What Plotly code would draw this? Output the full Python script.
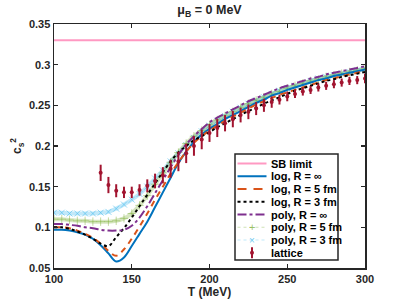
import plotly.graph_objects as go

# ---------------- data ----------------
T = [100, 105, 110, 115, 120, 125, 130, 135, 140, 145, 150, 155, 160, 165, 170, 175, 180,
     185, 190, 195, 200, 205, 210, 215, 220, 225, 230, 235, 240, 245, 250, 255, 260, 265,
     270, 275, 280, 285, 290, 295, 300]

sb_limit = 0.33

log_inf = [0.097, 0.097, 0.096, 0.094, 0.091, 0.086, 0.078, 0.068, 0.058, 0.063, 0.077, 0.092,
           0.107, 0.125, 0.143, 0.161, 0.179, 0.193, 0.205, 0.214, 0.221, 0.227, 0.233, 0.238,
           0.243, 0.248, 0.253, 0.257, 0.262, 0.265, 0.269, 0.272, 0.275, 0.278, 0.281, 0.283,
           0.286, 0.288, 0.290, 0.292, 0.294]
log_5 = [0.100, 0.100, 0.099, 0.096, 0.092, 0.087, 0.080, 0.071, 0.065, 0.073, 0.086, 0.101,
         0.117, 0.134, 0.150, 0.166, 0.180, 0.193, 0.204, 0.212, 0.219, 0.225, 0.231, 0.236,
         0.241, 0.246, 0.251, 0.255, 0.259, 0.263, 0.266, 0.269, 0.272, 0.275, 0.278, 0.281,
         0.283, 0.286, 0.288, 0.290, 0.292]
log_3 = [0.100, 0.100, 0.098, 0.095, 0.091, 0.086, 0.080, 0.077, 0.088, 0.099, 0.112, 0.126,
         0.140, 0.154, 0.168, 0.181, 0.192, 0.200, 0.207, 0.212, 0.217, 0.223, 0.228, 0.233,
         0.238, 0.243, 0.247, 0.252, 0.256, 0.260, 0.264, 0.268, 0.271, 0.274, 0.277, 0.280,
         0.282, 0.285, 0.287, 0.289, 0.291]
poly_inf = [0.104, 0.104, 0.103, 0.102, 0.100, 0.099, 0.097, 0.096, 0.096, 0.097, 0.102, 0.112,
            0.126, 0.142, 0.158, 0.174, 0.189, 0.202, 0.212, 0.221, 0.229, 0.235, 0.240, 0.245,
            0.250, 0.255, 0.259, 0.263, 0.267, 0.271, 0.274, 0.277, 0.280, 0.283, 0.285, 0.288,
            0.290, 0.292, 0.294, 0.296, 0.298]
poly_5 = [0.110, 0.110, 0.109, 0.108, 0.108, 0.107, 0.107, 0.107, 0.108, 0.111, 0.117, 0.127,
          0.139, 0.153, 0.167, 0.180, 0.192, 0.203, 0.212, 0.219, 0.226, 0.232, 0.237, 0.242,
          0.247, 0.252, 0.256, 0.260, 0.264, 0.267, 0.271, 0.274, 0.277, 0.280, 0.282, 0.285,
          0.287, 0.289, 0.291, 0.293, 0.295]
poly_3 = [0.118, 0.118, 0.117, 0.117, 0.117, 0.117, 0.118, 0.119, 0.123, 0.128, 0.134, 0.141,
          0.150, 0.160, 0.170, 0.181, 0.191, 0.201, 0.210, 0.218, 0.225, 0.231, 0.237, 0.242,
          0.247, 0.252, 0.256, 0.260, 0.264, 0.268, 0.271, 0.274, 0.277, 0.280, 0.283, 0.285,
          0.287, 0.289, 0.291, 0.293, 0.295]

T_lat = [130, 135, 140, 145, 150, 155, 160, 165, 170, 175, 180, 185, 190, 195, 200, 205, 210,
         215, 220, 225, 230, 235, 240, 245, 250, 255, 260, 265, 270, 275, 280, 285, 290, 295, 300]
lat = [0.167, 0.152, 0.145, 0.143, 0.143, 0.146, 0.151, 0.157, 0.164, 0.172, 0.181, 0.191,
       0.200, 0.208, 0.216, 0.222, 0.228, 0.233, 0.238, 0.242, 0.246, 0.250, 0.254, 0.257,
       0.261, 0.264, 0.267, 0.269, 0.272, 0.274, 0.276, 0.278, 0.280, 0.281, 0.283]
lat_err = [0.010, 0.010, 0.008, 0.007, 0.007, 0.007, 0.008, 0.009, 0.010, 0.011, 0.012, 0.012,
           0.012, 0.012, 0.011, 0.011, 0.010, 0.010, 0.009, 0.009, 0.008, 0.008, 0.007, 0.006,
           0.006, 0.005, 0.005, 0.005, 0.005, 0.005, 0.005, 0.005, 0.005, 0.005, 0.006]

legend_labels = ["SB limit", "log, R = ∞", "log, R = 5 fm", "log, R = 3 fm",
                 "poly, R = ∞", "poly, R = 5 fm", "poly, R = 3 fm", "lattice"]

FONT = "Liberation Sans"
C_SB = "#FF99C2"
C_BLUE = "#0072BD"
C_ORANGE = "#D95319"
C_PURPLE = "#7E2F8E"
C_GREEN = "rgba(119,172,48,0.30)"
C_GREEN_M = "rgba(119,172,48,0.45)"
C_CYAN = "rgba(77,190,238,0.35)"
C_CYAN_M = "rgba(77,190,238,0.6)"
C_LAT = "#A2142F"

W, H = 403, 303
ML, MR, MT, MB = 54, 38, 24, 35

fig = go.Figure()

fig.add_trace(go.Scatter(x=[T[0], T[-1]], y=[sb_limit, sb_limit], mode="lines",
                         line=dict(color=C_SB, width=2), name=legend_labels[0]))
fig.add_trace(go.Scatter(x=T, y=poly_3, mode="lines+markers", line=dict(color=C_CYAN, width=4, shape="spline"),
                         marker=dict(symbol="x-thin", size=6, line=dict(color=C_CYAN_M, width=1)),
                         name=legend_labels[6]))
fig.add_trace(go.Scatter(x=T, y=poly_5, mode="lines+markers", line=dict(color=C_GREEN, width=4, shape="spline"),
                         marker=dict(symbol="cross-thin", size=6, line=dict(color=C_GREEN_M, width=1)),
                         name=legend_labels[5]))
fig.add_trace(go.Scatter(x=T, y=log_inf, mode="lines", line=dict(color=C_BLUE, width=2, shape="spline"),
                         name=legend_labels[1]))
fig.add_trace(go.Scatter(x=T, y=log_5, mode="lines",
                         line=dict(color=C_ORANGE, width=2, dash="6px,5px", shape="spline"),
                         name=legend_labels[2]))
fig.add_trace(go.Scatter(x=T, y=log_3, mode="lines", line=dict(color="black", width=2, dash="dot", shape="spline"),
                         name=legend_labels[3]))
fig.add_trace(go.Scatter(x=T, y=poly_inf, mode="lines",
                         line=dict(color=C_PURPLE, width=2, dash="dashdot", shape="spline"),
                         name=legend_labels[4]))
fig.add_trace(go.Scatter(x=T_lat, y=lat, mode="markers", name=legend_labels[7],
                         marker=dict(color=C_LAT, size=4, symbol="circle"),
                         error_y=dict(type="data", array=lat_err, color=C_LAT, thickness=2, width=0)))

# ---------------- custom legend (compact MATLAB-style) ----------------
pw, ph = W - ML - MR, H - MT - MB
def px(x):
    return (x - ML) / pw
def py(y):
    return (H - MB - y) / ph

box_l, box_r, box_t, box_b = 235, 338, 154, 260
row0, row_dy = 163.5, 12.75
s_l, s_r, txt_x = 237.5, 266.5, 269

shapes = [dict(type="rect", xref="paper", yref="paper", x0=px(box_l), x1=px(box_r),
               y0=py(box_b), y1=py(box_t), fillcolor="white",
               line=dict(color="#262626", width=1.5), layer="above")]
sample_styles = [
    dict(color=C_SB, width=2),
    dict(color=C_BLUE, width=2),
    dict(color=C_ORANGE, width=2, dash="9px,7px"),
    dict(color="black", width=2, dash="dot"),
    dict(color=C_PURPLE, width=2, dash="dashdot"),
    dict(color="rgba(119,172,48,0.35)", width=1, dash="dot"),
    dict(color="rgba(77,190,238,0.35)", width=1, dash="dot"),
]
annotations = []
for i, lab in enumerate(legend_labels):
    yc = row0 + i * row_dy
    if i < 7:
        shapes.append(dict(type="line", xref="paper", yref="paper", x0=px(s_l), x1=px(s_r),
                           y0=py(yc), y1=py(yc), line=sample_styles[i], layer="above"))
    annotations.append(dict(text="<b>%s</b>" % lab, xref="paper", yref="paper", x=px(txt_x), y=py(yc),
                            xanchor="left", yanchor="middle", showarrow=False,
                            font=dict(family=FONT, size=11, color="black")))
xm = (s_l + s_r) / 2
annotations.append(dict(text="+", xref="paper", yref="paper", x=px(xm), y=py(row0 + 5 * row_dy),
                        xanchor="center", yanchor="middle", showarrow=False,
                        font=dict(family=FONT, size=11, color="rgba(119,172,48,0.7)")))
annotations.append(dict(text="×", xref="paper", yref="paper", x=px(xm), y=py(row0 + 6 * row_dy),
                        xanchor="center", yanchor="middle", showarrow=False,
                        font=dict(family=FONT, size=10, color="rgba(77,190,238,0.8)")))
yl = row0 + 7 * row_dy
shapes.append(dict(type="line", xref="paper", yref="paper", x0=px(xm), x1=px(xm),
                   y0=py(yl - 5.5), y1=py(yl + 5.5), line=dict(color=C_LAT, width=2), layer="above"))
shapes.append(dict(type="circle", xref="paper", yref="paper", x0=px(xm - 2), x1=px(xm + 2),
                   y0=py(yl + 2), y1=py(yl - 2), fillcolor=C_LAT, line=dict(color=C_LAT, width=0),
                   layer="above"))

axis_common = dict(showline=True, linecolor="#262626", linewidth=1.5, mirror="allticks",
                   ticks="inside", ticklen=4, tickwidth=1.2, tickcolor="#262626",
                   showgrid=False, zeroline=False,
                   tickfont=dict(family=FONT, size=11, color="#262626", weight="bold"))

fig.update_layout(
    width=W, height=H,
    margin=dict(l=ML, r=MR, t=MT, b=MB, autoexpand=False),
    paper_bgcolor="white", plot_bgcolor="white",
    font=dict(family=FONT, size=11, color="#262626"),
    title=dict(text="<b>μ<sub>B</sub> = 0 MeV</b>", x=0.5, xref="paper", y=0.967, yanchor="middle",
               font=dict(family=FONT, size=12.5, color="#262626")),
    xaxis=dict(range=[100, 300], tickvals=[100, 150, 200, 250, 300],
               title=dict(text="<b>T (MeV)</b>", standoff=2, font=dict(family=FONT, size=12)),
               **axis_common),
    yaxis=dict(range=[0.05, 0.35], dtick=0.05, tick0=0.05,
               title=dict(text="<b>c<sub>s</sub><sup>2</sup></b>", standoff=4, font=dict(family=FONT, size=12)),
               **axis_common),
    showlegend=False,
    hovermode=False,
    shapes=shapes,
    annotations=annotations,
)

fig.write_html("out.html", config={"displayModeBar": False, "staticPlot": True},
               post_script="document.body.style.margin='0px';")
